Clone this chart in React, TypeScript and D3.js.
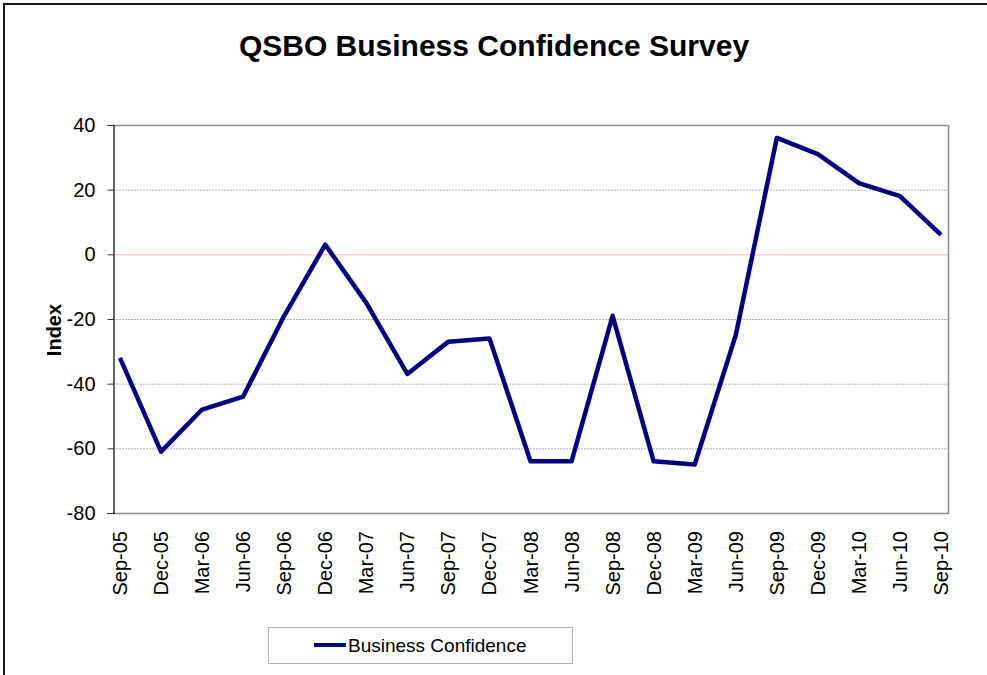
import * as d3 from "d3";
import { useEffect, useRef } from "react";

// quarterly survey periods
const quarters = [
  "Sep-05", "Dec-05", "Mar-06", "Jun-06", "Sep-06", "Dec-06", "Mar-07",
  "Jun-07", "Sep-07", "Dec-07", "Mar-08", "Jun-08", "Sep-08", "Dec-08",
  "Mar-09", "Jun-09", "Sep-09", "Dec-09", "Mar-10", "Jun-10", "Sep-10",
];
const confidence = [
  -32, -61, -48, -44, -19, 3, -15, -37, -27, -26, -64, -64, -19, -64, -65,
  -25, 36, 31, 22, 18, 6,
];
const yTicks = [40, 20, 0, -20, -40, -60, -80];

const W = 987;
const H = 675;
const FONT = "'Liberation Sans', Arial, sans-serif";

export default function App() {
  const ref = useRef<SVGSVGElement | null>(null);

  useEffect(() => {
    const svg = d3.select(ref.current);
    svg.selectAll("*").remove();

    const plot = { left: 113, right: 948, top: 125, bottom: 513 };

    const x = d3
      .scalePoint<string>()
      .domain(quarters)
      .range([plot.left, plot.right])
      .padding(0.17);
    const y = d3.scaleLinear().domain([-80, 40]).range([plot.bottom, plot.top]);

    // outer frame
    svg
      .append("rect")
      .attr("x", 4)
      .attr("y", 4)
      .attr("width", W - 2)
      .attr("height", H + 10)
      .attr("fill", "white")
      .attr("stroke", "#1a1a1a")
      .attr("stroke-width", 2);

    svg
      .append("text")
      .attr("x", 494)
      .attr("y", 56)
      .attr("text-anchor", "middle")
      .attr("font-family", FONT)
      .attr("font-size", 30)
      .attr("font-weight", "bold")
      .text("QSBO Business Confidence Survey");

    // gridlines
    svg
      .append("g")
      .selectAll("line")
      .data(yTicks.filter((t) => t !== 40 && t !== -80))
      .join("line")
      .attr("x1", plot.left)
      .attr("x2", plot.right)
      .attr("y1", (d) => y(d) + 0.5)
      .attr("y2", (d) => y(d) + 0.5)
      .attr("stroke", (d) => (d === 0 ? "#ffb0b0" : "#b0b0b0"))
      .attr("stroke-width", 1)
      .attr("stroke-dasharray", (d) => (d === 0 ? null : "2,1"));

    // plot border
    svg
      .append("path")
      .attr(
        "d",
        `M${plot.left},${plot.top + 0.5}H${plot.right + 0.5}V${plot.bottom + 0.5}H${plot.left}`
      )
      .attr("fill", "none")
      .attr("stroke", "#8c8c8c")
      .attr("stroke-width", 1.5);

    // y axis
    const yAxis = svg
      .append("g")
      .attr("transform", `translate(${plot.left + 0.5},0)`)
      .call(
        d3
          .axisLeft(y)
          .tickValues(yTicks)
          .tickSize(6)
          .tickPadding(12)
          .tickFormat((d) => String(d))
      );
    yAxis.select(".domain").attr("stroke", "#000").attr("stroke-width", 1.2);
    yAxis.selectAll(".tick line").attr("stroke", "#333");
    yAxis
      .selectAll(".tick text")
      .attr("font-family", FONT)
      .attr("font-size", 20)
      .attr("fill", "#000");

    svg
      .append("text")
      .attr("transform", `translate(61,330) rotate(-90)`)
      .attr("text-anchor", "middle")
      .attr("font-family", FONT)
      .attr("font-size", 20)
      .attr("font-weight", "bold")
      .text("Index");

    // x labels
    svg
      .append("g")
      .selectAll("text")
      .data(quarters)
      .join("text")
      .attr("transform", (d) => `translate(${x(d)! + 7},531) rotate(-90)`)
      .attr("text-anchor", "end")
      .attr("font-family", FONT)
      .attr("font-size", 20)
      .text((d) => d);

    // series
    const line = d3
      .line<number>()
      .x((_, i) => x(quarters[i])!)
      .y((d) => y(d));
    svg
      .append("path")
      .datum(confidence)
      .attr("d", line)
      .attr("fill", "none")
      .attr("stroke", "#000080")
      .attr("stroke-width", 4.5)
      .attr("stroke-linejoin", "round");

    // legend
    const legend = svg.append("g");
    legend
      .append("rect")
      .attr("x", 268.5)
      .attr("y", 627.5)
      .attr("width", 304)
      .attr("height", 36)
      .attr("fill", "white")
      .attr("stroke", "#b0b0b0");
    legend
      .append("line")
      .attr("x1", 314)
      .attr("x2", 346)
      .attr("y1", 645)
      .attr("y2", 645)
      .attr("stroke", "#000080")
      .attr("stroke-width", 4);
    legend
      .append("text")
      .attr("x", 348)
      .attr("y", 652)
      .attr("font-family", FONT)
      .attr("font-size", 19)
      .text("Business Confidence");
  }, []);

  return (
    <div style={{ position: "fixed", left: 0, top: 0 }}>
      <svg ref={ref} width={W} height={H} style={{ display: "block" }} />
    </div>
  );
}
